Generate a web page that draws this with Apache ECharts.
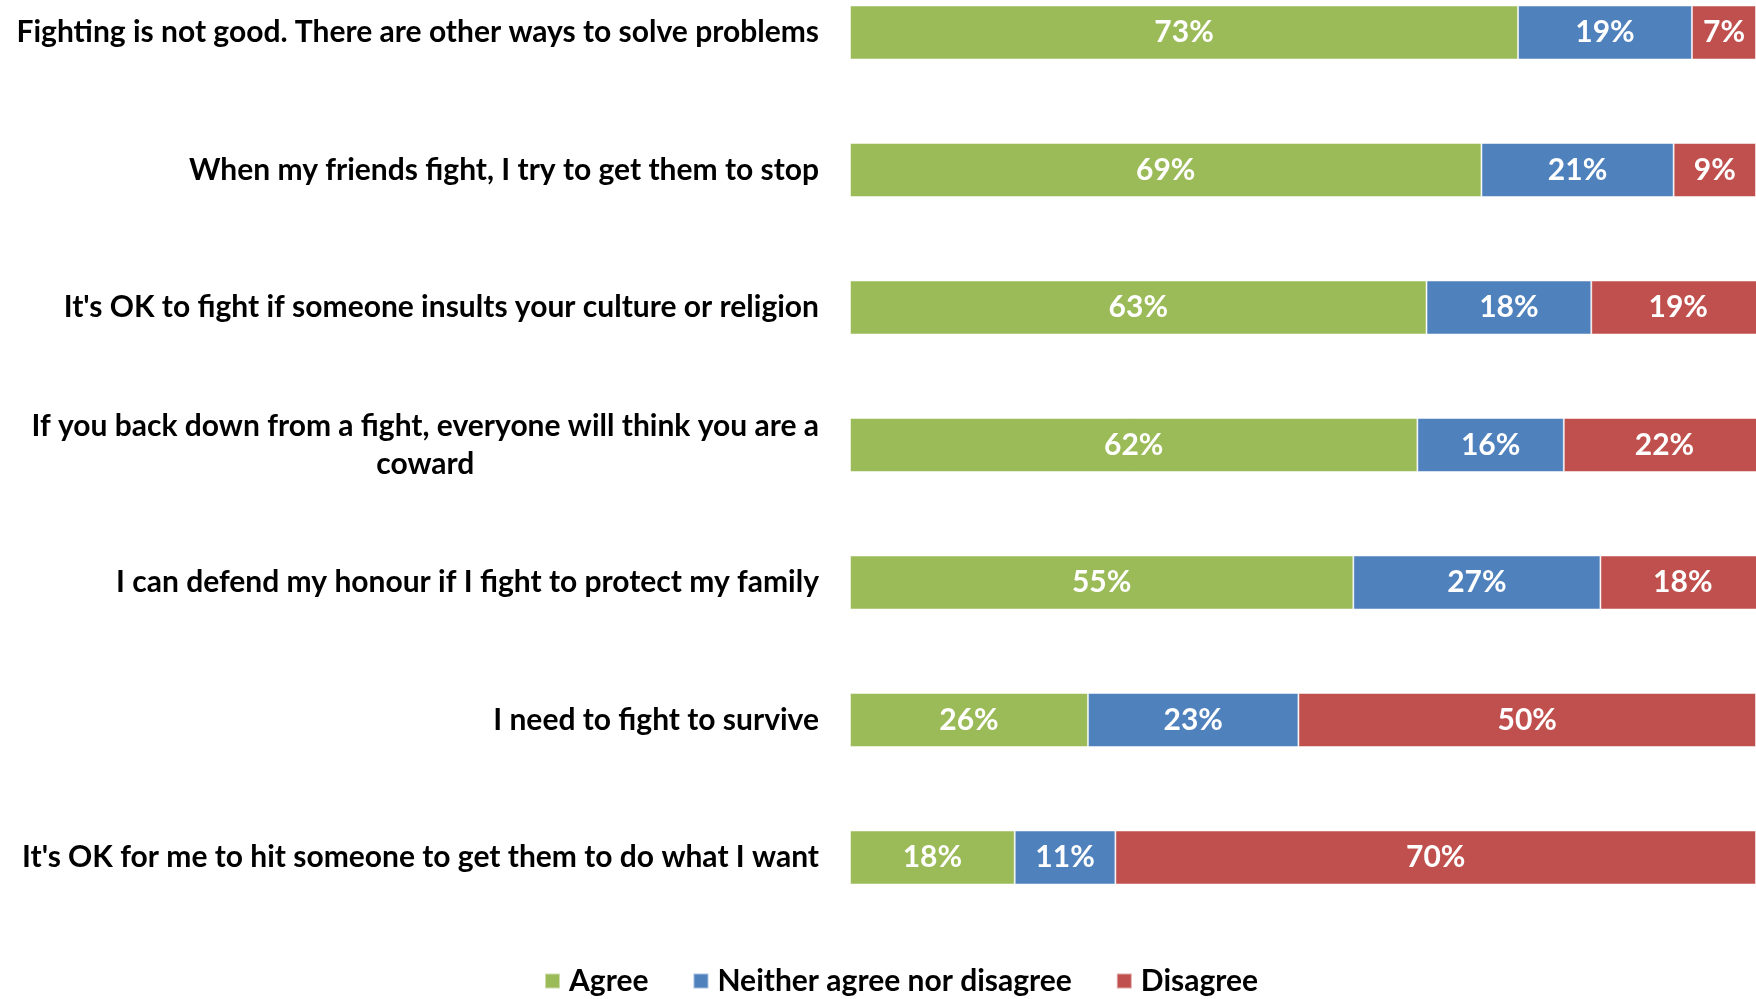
<!DOCTYPE html>
<html>
<head>
<meta charset="utf-8">
<script src="https://cdn.jsdelivr.net/npm/echarts@6/dist/echarts.min.js"></script>
<style>
html,body{margin:0;padding:0;background:#fff;}
#chart{width:1756px;height:999px;}
</style>
</head>
<body>
<div id="chart"></div>
<script>
const categories = [
  "Fighting is not good. There are other ways to solve problems",
  "When my friends fight, I try to get them to stop",
  "It's OK to fight if someone insults your culture or religion",
  "If you back down from a fight, everyone will think you are a coward",
  "I can defend my honour if I fight to protect my family",
  "I need to fight to survive",
  "It's OK for me to hit someone to get them to do what I want"
];
const agree    = [73, 69, 63, 62, 55, 26, 18];
const neither  = [19, 21, 18, 16, 27, 23, 11];
const disagree = [7, 9, 19, 22, 18, 50, 70];
const seriesNames = ["Agree", "Neither agree nor disagree", "Disagree"];
const colors = ["#9BBB59", "#4F81BD", "#C0504D"];

const FONT = "Lato, 'Open Sans', sans-serif";
const FS = 30;
const ctx = document.createElement('canvas').getContext('2d');
ctx.font = "bold " + FS + "px Lato";
function wrap(text, maxW) {
  const words = text.split(' ');
  const lines = [];
  let cur = '';
  for (const w of words) {
    const t = cur ? cur + ' ' + w : w;
    if (ctx.measureText(t).width > maxW && cur) { lines.push(cur); cur = w; }
    else cur = t;
  }
  if (cur) lines.push(cur);
  return lines.join('\n');
}

const chart = echarts.init(document.getElementById('chart'));
const labelStyle = {
  show: true, position: 'inside', color: '#fff', fontFamily: FONT,
  fontWeight: 'bold', fontSize: FS, formatter: '{c}%'
};
const data = [agree, neither, disagree];
chart.setOption({
  animation: false,
  backgroundColor: '#fff',
  grid: { left: 850, right: 0, top: 32.5, bottom: 141.5, containLabel: false },
  xAxis: { type: 'value', min: 0, max: 99, show: false },
  yAxis: {
    type: 'category', inverse: true, data: categories, boundaryGap: false,
    axisLine: { show: false }, axisTick: { show: false }, splitLine: { show: false },
    axisLabel: {
      margin: 31,
      formatter: v => '{c|' + wrap(v, 830) + '}',
      rich: { c: { align: 'center', fontFamily: FONT, fontWeight: 'bold', fontSize: FS, color: '#000', lineHeight: 38 } }
    }
  },
  legend: {
    left: 544, top: 966, padding: 0, itemWidth: 15, itemHeight: 15, itemGap: 44,
    icon: 'rect',
    textStyle: { fontFamily: FONT, fontWeight: 'bold', fontSize: FS, color: '#000', padding: [0, 0, 0, 4] },
    data: seriesNames
  },
  series: seriesNames.map((n, i) => ({
    name: n, type: 'bar', stack: 'total', barWidth: 54, clip: false,
    itemStyle: { color: colors[i], borderColor: 'rgba(255,255,255,0.5)', borderWidth: 1 },
    label: labelStyle,
    data: data[i]
  }))
});
</script>
</body>
</html>
